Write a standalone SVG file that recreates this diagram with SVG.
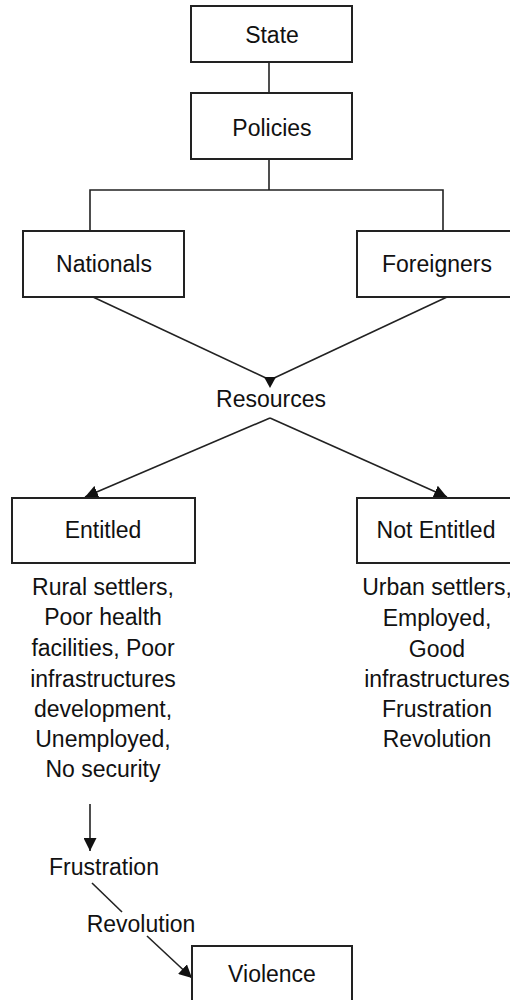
<svg xmlns="http://www.w3.org/2000/svg" width="510" height="1000" viewBox="0 0 510 1000">
<style>
.box{fill:#fff;stroke:#222;stroke-width:2}
.ln{fill:none;stroke:#222;stroke-width:1.6}
text{font-family:"Liberation Sans",Arial,sans-serif;font-size:23px;fill:#111;text-anchor:middle}
</style>
<defs>
<marker id="ahb" viewBox="0 0 10 10" refX="10" refY="5" markerWidth="13" markerHeight="13" markerUnits="userSpaceOnUse" orient="auto">
<path d="M0,0 L10,5 L0,10 z" fill="#111"/>
</marker>
</defs>
<rect width="510" height="1000" fill="#fff"/>
<g id="connectors">
<line class="ln" x1="269" y1="62" x2="269" y2="93"/>
<line class="ln" x1="269" y1="159" x2="269" y2="190"/>
<polyline class="ln" points="90,231 90,190 443,190 443,231"/>
<line class="ln" x1="93" y1="297" x2="268" y2="379"/>
<line class="ln" x1="447" y1="297" x2="272" y2="379"/>
<polygon points="264,377 276,377 270,388" fill="#111"/>
<line class="ln" x1="270" y1="418" x2="85" y2="497" marker-end="url(#ahb)"/>
<line class="ln" x1="270" y1="418" x2="447" y2="497" marker-end="url(#ahb)"/>
<line class="ln" x1="90" y1="804" x2="90" y2="851" marker-end="url(#ahb)"/>
<line class="ln" x1="92" y1="883" x2="122" y2="912"/>
<line class="ln" x1="147" y1="936" x2="192" y2="978" marker-end="url(#ahb)"/>
</g>
<g id="state"><rect class="box" x="191" y="6" width="161" height="56"/><text x="272" y="43">State</text></g>
<g id="policies"><rect class="box" x="191" y="93" width="161" height="66"/><text x="272" y="136">Policies</text></g>
<g id="nationals"><rect class="box" x="23" y="231" width="161" height="66"/><text x="104" y="272">Nationals</text></g>
<g id="foreigners"><rect class="box" x="357" y="231" width="160" height="66"/><text x="437" y="272">Foreigners</text></g>
<g id="resources"><text x="271" y="407">Resources</text></g>
<g id="entitled"><rect class="box" x="12" y="498" width="183" height="65"/><text x="103" y="538">Entitled</text></g>
<g id="not-entitled"><rect class="box" x="357" y="498" width="160" height="65"/><text x="436" y="538">Not Entitled</text></g>
<g id="entitled-notes">
<text x="103" y="595">Rural settlers,</text>
<text x="103" y="625">Poor health</text>
<text x="103" y="656">facilities, Poor</text>
<text x="103" y="687">infrastructures</text>
<text x="103" y="717">development,</text>
<text x="103" y="747">Unemployed,</text>
<text x="103" y="777">No security</text>
</g>
<g id="not-entitled-notes">
<text x="437" y="595">Urban settlers,</text>
<text x="437" y="626">Employed,</text>
<text x="437" y="657">Good</text>
<text x="437" y="687">infrastructures</text>
<text x="437" y="717">Frustration</text>
<text x="437" y="747">Revolution</text>
</g>
<g id="frustration"><text x="104" y="875">Frustration</text></g>
<g id="revolution"><text x="141" y="932">Revolution</text></g>
<g id="violence"><rect class="box" x="192" y="946" width="160" height="70"/><text x="272" y="982">Violence</text></g>
</svg>
